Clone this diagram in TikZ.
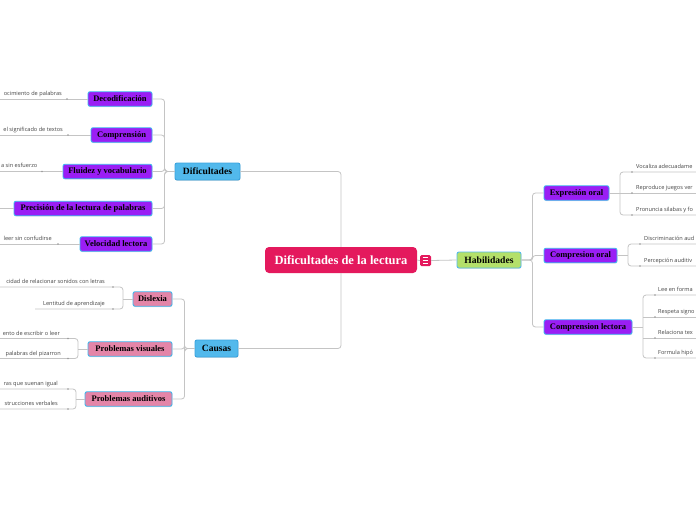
\documentclass[tikz,border=0pt]{standalone}
\usepackage{fontspec}
\setmainfont{Liberation Serif}
\newfontfamily\leaffont{Open Sans}
\usetikzlibrary{shadows}
\definecolor{redc}{HTML}{E4195D}
\definecolor{purp}{HTML}{9A1EF4}
\definecolor{cyanb}{HTML}{3DB7EE}
\definecolor{bluef}{HTML}{52B9EC}
\definecolor{blued}{HTML}{3AA3DE}
\definecolor{pinkf}{HTML}{E485A8}
\definecolor{greenf}{HTML}{B4E06A}
\definecolor{connc}{HTML}{C4C4C4}
\definecolor{tickc}{HTML}{9A9A9A}
\definecolor{leafc}{HTML}{454545}
\tikzset{
  box/.style={rounded corners=2pt, line width=0.9pt, inner sep=0pt, text=black,
    font=\bfseries\fontsize{8.5}{9}\selectfont,
    drop shadow={opacity=0.22, shadow xshift=0.4pt, shadow yshift=-0.8pt}},
  purpbox/.style={box, fill=purp, draw=cyanb, minimum height=14.5pt},
  bluebox/.style={box, fill=bluef, draw=blued, minimum height=17pt, font=\bfseries\fontsize{9.6}{10}\selectfont},
  pinkbox/.style={box, fill=pinkf, draw=cyanb, minimum height=14.5pt},
  greenbox/.style={box, fill=greenf, draw=bluef, minimum height=16pt, font=\bfseries\fontsize{9.6}{10}\selectfont},
  rootbox/.style={rounded corners=4pt, fill=redc, text=white, inner sep=0pt,
    minimum width=152pt, minimum height=26pt, font=\bfseries\fontsize{12.5}{13}\selectfont},
  conn/.style={draw=connc, line width=0.8pt, rounded corners=3pt},
  leaf/.style={inner sep=0pt, text=leafc, font=\leaffont\fontsize{5.6}{6.5}\selectfont},
  leafl/.style={leaf, anchor=base east},
  leafr/.style={leaf, anchor=base west},
}
\newcommand\tickat[1]{\fill[tickc] #1 circle (0.8pt);}
\begin{document}
\begin{tikzpicture}[x=1pt,y=-1pt]
\clip (0,0) rectangle (696,520);
\fill[white] (0,0) rectangle (696,520);

% ---------- nodes ----------
\node[rootbox] (root) at (341,260) {Dificultades de la lectura};
\node[rounded corners=1.5pt, fill=redc, minimum width=11pt, minimum height=11pt, inner sep=0pt] (menu) at (425.5,260.5) {};
\draw[white, line width=0.6pt] ([xshift=3pt,yshift=2.5pt]menu.south west) -- ([xshift=-3pt,yshift=2.5pt]menu.south east)
  ([xshift=3pt]menu.west) -- ([xshift=-3pt]menu.east)
  ([xshift=3pt,yshift=-2.5pt]menu.north west) -- ([xshift=-3pt,yshift=-2.5pt]menu.north east);

\node[bluebox, minimum width=65pt] (dif) at (207.5,171.5) {Dificultades};
\node[bluebox, minimum width=43pt] (cau) at (216.5,348.5) {Causas};
\node[greenbox, minimum width=64pt] (hab) at (489,260) {Habilidades};

\node[purpbox, minimum width=64pt] (deco) at (120,99) {Decodificación};
\node[purpbox, minimum width=61pt] (comp) at (121.5,135) {Comprensión};
\node[purpbox, minimum width=89pt] (flu) at (107.5,171.5) {Fluidez y vocabulario};
\node[purpbox, minimum width=138pt] (prec) at (83,208.5) {Precisión de la lectura de palabras};
\node[purpbox, minimum width=72pt] (vel) at (116,244) {Velocidad lectora};

\node[pinkbox, minimum width=39pt] (dis) at (152.5,299) {Dislexia};
\node[pinkbox, minimum width=84pt] (vis) at (130,349) {Problemas visuales};
\node[pinkbox, minimum width=87pt] (aud) at (128.5,399) {Problemas auditivos};

\node[purpbox, minimum width=65pt] (expr) at (576.5,193) {Expresión oral};
\node[purpbox, minimum width=73pt] (cor) at (580.5,255.5) {Compresion oral};
\node[purpbox, minimum width=88pt] (clec) at (588,327) {Comprension lectora};

% ---------- main connectors ----------
\draw[conn] (root.north) |- (dif.east);
\draw[conn] (root.south) |- (cau.east);
\draw[conn] (root.east) -- (menu.west);
\draw[conn] (menu.east) -- (hab.west);

\foreach \c in {deco,comp,flu,prec,vel}
  \draw[conn] (dif.west) -- ++(-10,0) |- (\c.east);
\foreach \c in {dis,vis,aud}
  \draw[conn] (cau.west) -- ++(-10,0) |- (\c.east);
\foreach \c in {expr,cor,clec}
  \draw[conn] (hab.east) -- ++(11,0) |- (\c.west);

% ---------- left leaves (Dificultades) ----------
\draw[conn] (deco.west) -- (0,99);   \tickat{(67,99)}
\node[leafl] at (62,95.5) {ocimiento de palabras};
\draw[conn] (comp.west) -- (0,135);  \tickat{(68,135)}
\node[leafl] at (63,131.5) {el significado de textos};
\draw[conn] (flu.west) -- (0,171.5); \tickat{(42,171.5)}
\node[leafl] at (37.5,167.5) {a sin esfuerzo};
\draw[conn] (prec.west) -- (0,208.5);
\draw[conn] (vel.west) -- (0,244);   \tickat{(58,244)}
\node[leafl] at (52,240.5) {leer sin confudirse};

% ---------- left leaves (Causas) ----------
\draw[conn] (-5,287) -- (123,287) -- (123,309) -- (35,309);
\draw[conn] (dis.west) -- (123,299);
\tickat{(113,287)} \tickat{(113,309)}
\node[leafl] at (105,283.5) {cidad de relacionar sonidos con letras};
\node[leafl] at (105,305.5) {Lentitud de aprendizaje};

\draw[conn] (-5,338.5) -- (78,338.5) -- (78,358.5) -- (-5,358.5);
\draw[conn] (vis.west) -- (78,349);
\tickat{(68,338.5)} \tickat{(68,358.5)}
\node[leafl] at (60,335) {ento de escribir o leer};
\node[leafl] at (61,355) {palabras del pizarron};

\draw[conn] (-5,389) -- (76,389) -- (76,409) -- (-5,409);
\draw[conn] (aud.west) -- (76,399);
\tickat{(68,389)} \tickat{(68,409)}
\node[leafl] at (58,385.5) {ras que suenan igual};
\node[leafl] at (58,405.5) {strucciones verbales};

% ---------- right leaves ----------
\draw[conn] (705,172) -- (620,172) -- (620,215) -- (705,215);
\draw[conn] (expr.east) -- (705,193);
\tickat{(632,172)} \tickat{(632,193)} \tickat{(632,215)}
\node[leafr] at (636,168.5) {Vocaliza adecuadame};
\node[leafr] at (636,189.5) {Reproduce juegos ver};
\node[leafr] at (636,211.5) {Pronuncia silabas y fo};

\draw[conn] (705,244) -- (628,244) -- (628,266) -- (705,266);
\draw[conn] (cor.east) -- (628,255.5);
\tickat{(640,244)} \tickat{(640,266)}
\node[leafr] at (644,240.5) {Discriminación aud};
\node[leafr] at (644,262.5) {Percepción auditiv};

\draw[conn] (705,295) -- (643,295) -- (643,358) -- (705,358);
\draw[conn] (705,317) -- (643,317);
\draw[conn] (705,338) -- (643,338);
\draw[conn] (clec.east) -- (643,327);
\tickat{(655,295)} \tickat{(655,317)} \tickat{(655,338)} \tickat{(655,358)}
\node[leafr] at (658,291.5) {Lee en forma};
\node[leafr] at (658,313.5) {Respeta signo};
\node[leafr] at (658,334.5) {Relaciona tex};
\node[leafr] at (658,354.5) {Formula hipó};
\end{tikzpicture}
\end{document}
